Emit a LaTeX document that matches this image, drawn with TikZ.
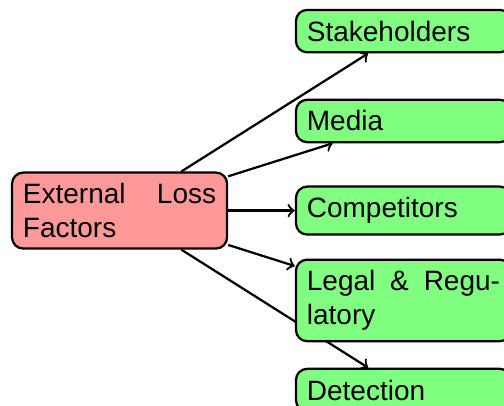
\documentclass[tikz,border=0pt]{standalone}
\usepackage{fontspec}
\setmainfont{Liberation Sans}
\usetikzlibrary{backgrounds}
\begin{document}
\begin{tikzpicture}[
  box/.style={draw, line width=0.8pt, rounded corners=4pt, align=justify,
    text width=69pt, inner sep=3.9pt, font=\fontsize{10}{12}\selectfont},
  rootbox/.style={box, fill=red!40},
  leafbox/.style={box, fill=green!50},
  conn/.style={->, line width=0.8pt}
]
\useasboundingbox (0,0) rectangle (180pt,-145pt);
\node[rootbox] (root) at (42.7pt,-75.2pt) {External Loss Factors};
\node[leafbox] (s) at (144.1pt,-11.1pt) {Stakeholders};
\node[leafbox] (m) at (144.1pt,-43.2pt) {Media};
\node[leafbox] (c) at (144.1pt,-75.2pt) {Competitors};
\node[leafbox] (l) at (144.1pt,-107.3pt) {Legal \& Regu\-latory};
\node[leafbox] (d) at (144.1pt,-139.3pt) {Detection};
\begin{pgfonlayer}{background}
\draw[conn] (root) -- (s);
\draw[conn] (root) -- (m);
\draw[conn] (root) -- (c);
\draw[conn] (root) -- (l);
\draw[conn] (root) -- (d);
\end{pgfonlayer}
\end{tikzpicture}
\end{document}
